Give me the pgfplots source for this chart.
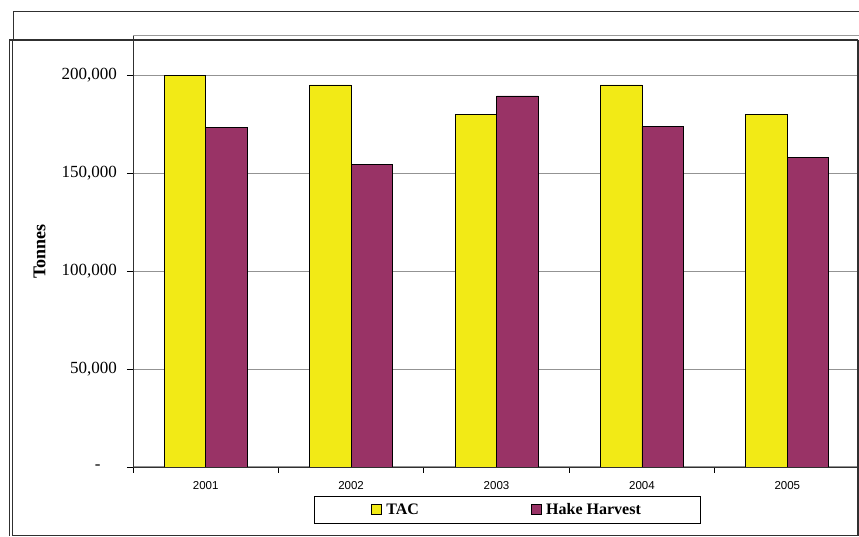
\documentclass[border=0pt]{standalone}
\usepackage{pgfplots}
\pgfplotsset{compat=1.18}
\usepackage{fontspec}
\setmainfont{Liberation Serif}
\newfontfamily\arial{Liberation Sans}
\definecolor{tacyellow}{HTML}{F2EA16}
\definecolor{hakeplum}{HTML}{993366}
\definecolor{framedark}{HTML}{303030}
\begin{document}
\begin{tikzpicture}[x=1pt,y=1pt]
\useasboundingbox (0,0) rectangle (859,537);
\begin{axis}[
  at={(133pt,70pt)}, anchor=south west,
  scale only axis, width=727pt, height=431pt,
  xmin=-0.5, xmax=4.5, ymin=0, ymax=220000,
  scaled y ticks=false,
  axis lines*=left,
  axis line style={draw=framedark, line width=0.9pt},
  ybar=0pt, bar width=41.5pt,
  tick align=outside, major tick length=6pt,
  tick style={draw=black, line width=0.8pt},
  xtick={-0.5,0.5,1.5,2.5,3.5,4.5},
  xticklabels={2001,2002,2003,2004,2005,{}},
  xticklabel style={font=\arial\fontsize{11.5}{13}\selectfont, anchor=north, inner sep=0pt, xshift=72.7pt, yshift=-8pt},
  ytick={0,50000,100000,150000,200000},
  yticklabels={{\makebox[22pt][l]{-}},{50,000},{100,000},{150,000},{200,000}},
  yticklabel style={font=\fontsize{17}{20}\selectfont, anchor=east, inner sep=0pt, xshift=-10pt},
  ymajorgrids, grid style={draw=gray!85, line width=1pt},
  ylabel={\textbf{Tonnes}},
  every axis y label/.style={at={(axis description cs:-0.1286,0.5)}, rotate=90, anchor=center, font=\fontsize{18}{20}\selectfont},
  legend columns=2,
  legend style={draw=none, fill=none, at={(0.5144,-0.0986)}, anchor=center,
    font=\bfseries\fontsize{16}{18}\selectfont,
    /tikz/every even column/.append style={column sep=110pt}},
  every axis plot post/.append style={legend image code/.code={\draw[#1, draw=black, line width=0.8pt] (0pt,-5pt) rectangle (10pt,5pt);}},
]
\addplot[fill=tacyellow, draw=black, line width=0.8pt] coordinates {(0,200000) (1,195000) (2,180000) (3,195000) (4,180000)};
\addlegendentry{\hspace{2.5pt}TAC}
\addplot[fill=hakeplum, draw=black, line width=0.8pt] coordinates {(0,173200) (1,154500) (2,189400) (3,173900) (4,157900)};
\addlegendentry{\hspace{2.5pt}Hake Harvest}
\end{axis}
% plot area top edge
\draw[gray!80, line width=1pt] (133,501) -- (859,501);
% outer frames
\draw[framedark, line width=1pt] (13,497) -- (13,525) -- (859,525);
\draw[framedark, line width=1.4pt] (9,497) -- (857.5,497);
\draw[framedark, line width=1pt] (9,497) -- (9,1);
\draw[framedark, line width=1pt] (12.3,497) -- (12.3,1.3) -- (857.5,1.3);
\draw[framedark, line width=2pt] (857.5,497) -- (857.5,1);
% legend box
\draw[black, line width=0.9pt] (314,14) rectangle (700,41);
\end{tikzpicture}
\end{document}
